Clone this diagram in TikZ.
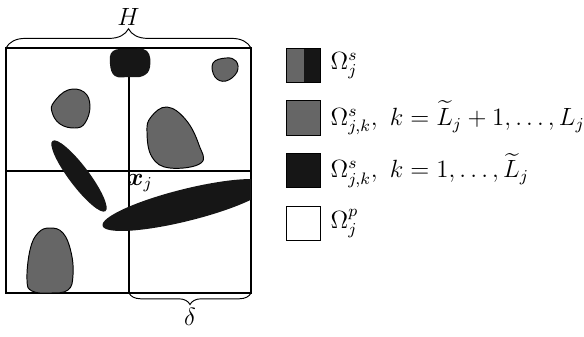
\documentclass[tikz,border=0pt]{standalone}
\usepackage{amsmath,amssymb,bm}
\usetikzlibrary{decorations.pathreplacing,positioning}
\definecolor{incl}{HTML}{666666}
\definecolor{dark}{HTML}{161616}

\begin{document}
\begin{tikzpicture}[x=0.52pt,y=-0.52pt,font=\large,
  soft/.style={fill=incl,draw=black,line width=0.5pt},
  hard/.style={fill=dark},
  cell/.style={line width=0.6pt},
  brc/.style={decorate,decoration={brace,amplitude=#1},line width=0.5pt},
  leg/.style={draw=black,line width=0.6pt,minimum size=18pt,inner sep=0pt},
  big/.style={scale=1.08,transform shape},
  txt/.style={big,right=1pt of #1}]
\useasboundingbox (0,0) rectangle (584,336);
% cell and its quarters
\coordinate (nw) at (6,48);
\coordinate (se) at (251,293);
\coordinate (n) at (129,48);
\coordinate (s) at (129,293);
\coordinate (w) at (6,171);
\coordinate (e) at (251,171);
\draw[cell] (nw) rectangle (se);
\draw[cell] (n) -- (s);
\draw[cell] (w) -- (e);
% gray inclusions
\draw[soft] plot[smooth cycle,tension=0.7] coordinates {(213,63) (226,58) (236,61) (237,72) (226,81) (215,77)};
\draw[soft] plot[smooth cycle,tension=0.7] coordinates {(54,102) (68,90) (84,92) (90,106) (85,123) (75,128) (60,124) (52,112)};
\draw[soft] plot[smooth cycle,tension=0.7] coordinates {(167,107) (151,117) (147,132) (152,157) (170,168) (201,163) (199,145) (186,120)};
\draw[soft] plot[smooth cycle,tension=0.7] coordinates {(50,228) (63,233) (71,252) (73,275) (68,290) (50,293) (32,291) (27,280) (30,250) (38,233)};
% black inclusions
\fill[hard] plot[smooth cycle,tension=0.7] coordinates {(113,51) (130,49) (147,51) (150,67) (143,76) (129,77) (115,76) (110,64)};
\fill[hard,rotate around={-53:(79,176)}] (79,176) ellipse [x radius=44,y radius=10];
\begin{scope}
\clip (nw) rectangle (se);
\fill[hard,rotate around={14:(186,205)}] (186,205) ellipse [x radius=86,y radius=16];
\end{scope}
\node[big] (xj) at (140,183) {$\boldsymbol{x}_j$};
% braces
\draw[brc=10pt] (nw) -- node[big,above=8pt] (H) {$H$} (251,48);
\draw[brc=6pt] (se) -- node[big,below=4pt] (d) {$\delta$} (s);
% legend
\node[leg,fill=dark,path picture={\fill[incl] (path picture bounding box.south west) rectangle (path picture bounding box.north);}] (k1) at (303.5,65.5) {};
\node[leg,fill=incl] (k2) at (303.5,118) {};
\node[leg,fill=dark] (k3) at (303.5,170.5) {};
\node[leg,fill=white] (k4) at (303.5,223.5) {};
\node[txt=k1] (t1) {$\Omega_j^s$};
\node[txt=k2] (t2) {$\Omega_{j,k}^s,\ k=\widetilde{L}_j+1,\ldots,L_j$};
\node[txt=k3] (t3) {$\Omega_{j,k}^s,\ k=1,\ldots,\widetilde{L}_j$};
\node[txt=k4] (t4) {$\Omega_j^p$};
\end{tikzpicture}
\end{document}
